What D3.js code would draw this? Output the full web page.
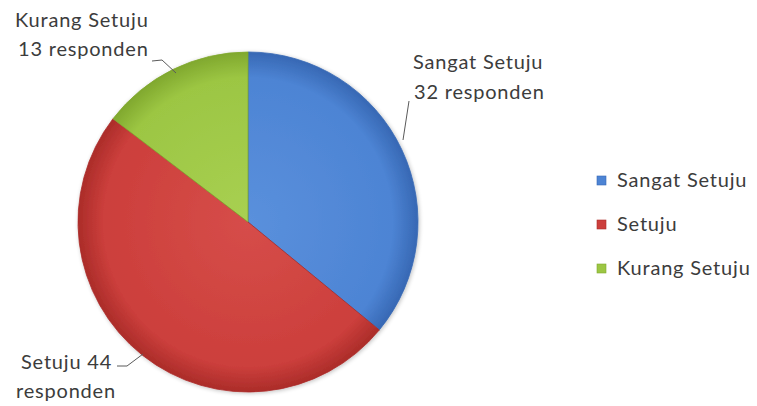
<!DOCTYPE html>
<html>
<head>
<meta charset="utf-8">
<script src="https://cdn.jsdelivr.net/npm/d3@7"></script>
<style>
  html, body { margin: 0; padding: 0; background: #fff; }
  svg text { font-family: Lato, "Noto Sans", sans-serif; fill: #3c3c3c; letter-spacing: 0.8px; }
</style>
</head>
<body>
<svg id="chart" width="757" height="406"></svg>
<script>
// Survey responses
const categories = ["Sangat Setuju", "Setuju", "Kurang Setuju"];
const values = [32, 44, 13];
const sliceLabels = [
  ["Sangat Setuju", "32 responden"],
  ["Setuju 44", "responden"],
  ["Kurang Setuju", "13 responden"]
];
const colorsMid = ["#4d84d4", "#cc3f3c", "#9cc643"];
const colorsEdge = ["#3768b4", "#ab2c29", "#80a82e"];
const colorsLight = ["#5a90dc", "#d64d49", "#a8d052"];

const svg = d3.select("#chart");
const cx = 248, cy = 222, r = 170;

const defs = svg.append("defs");
categories.forEach((c, i) => {
  const g = defs.append("radialGradient")
    .attr("id", "grad" + i)
    .attr("gradientUnits", "userSpaceOnUse")
    .attr("cx", 0).attr("cy", 0).attr("r", r);
  g.append("stop").attr("offset", "0%").attr("stop-color", colorsLight[i]);
  g.append("stop").attr("offset", "85%").attr("stop-color", colorsMid[i]);
  g.append("stop").attr("offset", "100%").attr("stop-color", colorsEdge[i]);
});
const blur = defs.append("filter").attr("id", "soft")
  .attr("x", "-10%").attr("y", "-10%").attr("width", "120%").attr("height", "120%");
blur.append("feGaussianBlur").attr("in", "SourceAlpha").attr("stdDeviation", 2).attr("result", "b");
blur.append("feOffset").attr("in", "b").attr("dx", 1).attr("dy", 1).attr("result", "o");
blur.append("feComponentTransfer").attr("in", "o").attr("result", "s")
  .append("feFuncA").attr("type", "linear").attr("slope", 0.25);
const merge = blur.append("feMerge");
merge.append("feMergeNode").attr("in", "s");
merge.append("feMergeNode").attr("in", "SourceGraphic");

const pie = d3.pie().sort(null).value(d => d);
const arcs = pie(values);
const arc = d3.arc().innerRadius(0).outerRadius(r);

const gPie = svg.append("g").attr("transform", `translate(${cx},${cy})`).attr("filter", "url(#soft)");
gPie.selectAll("path.slice")
  .data(arcs)
  .join("path")
  .attr("class", "slice")
  .attr("d", arc)
  .attr("fill", (d, i) => `url(#grad${i})`)
  .attr("stroke", (d, i) => colorsEdge[i])
  .attr("stroke-width", 0.8);

// Data labels with leader lines
const labelPos = [
  { x: [413, 414], y: 69, gap: 30, line: [[409, 101], [403, 140]] },
  { x: [21, 16], y: 369, gap: 29, line: [[117, 366], [127, 366], [143, 354]] },
  { x: [15, 18], y: 27, gap: 29, line: [[152, 61], [162, 60], [176, 73]] }
];
const line = d3.line();
labelPos.forEach((p, i) => {
  svg.append("path").attr("d", line(p.line))
    .attr("fill", "none").attr("stroke", "#5a5a5a").attr("stroke-width", 1);
  const t = svg.append("text")
    .attr("x", p.x[0]).attr("y", p.y)
    .attr("font-size", 20);
  sliceLabels[i].forEach((s, k) => {
    t.append("tspan").attr("x", p.x[k])
      .attr("dy", k === 0 ? 0 : p.gap).text(s);
  });
});

// Legend
const legendY = d3.scalePoint().domain(categories).range([180, 268]);
const lg = svg.append("g");
categories.forEach((c, i) => {
  const y = legendY(c);
  lg.append("rect").attr("x", 597).attr("y", y - 4).attr("width", 9).attr("height", 9)
    .attr("fill", colorsMid[i]).attr("stroke", colorsEdge[i]).attr("stroke-width", 0.6);
  lg.append("text").attr("x", 617).attr("y", y + 7).attr("font-size", 20).text(c);
});
</script>
</body>
</html>
